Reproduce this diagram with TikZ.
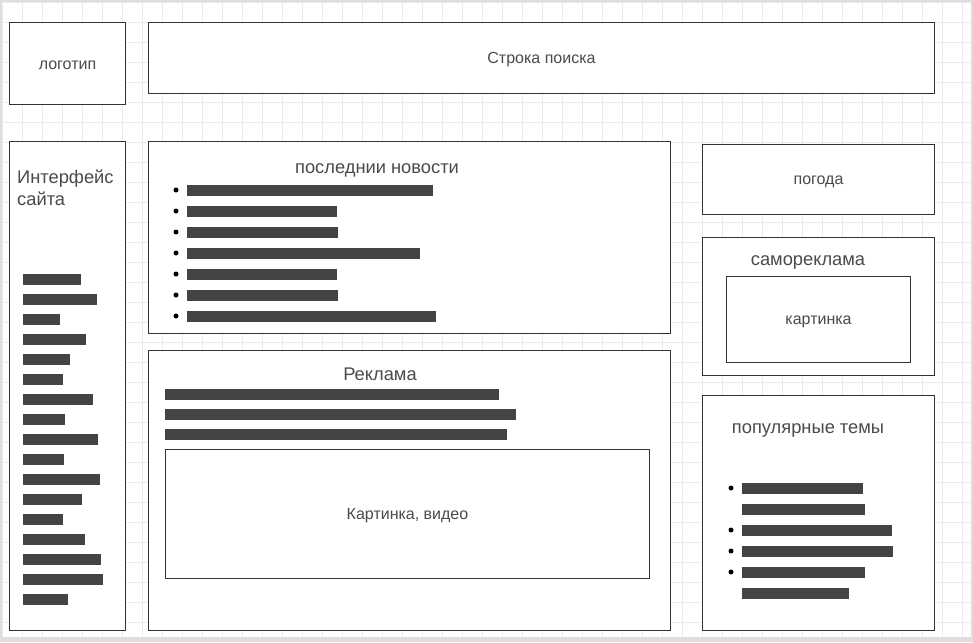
\documentclass[tikz,border=0pt]{standalone}
\usepackage{fontspec}
\setmainfont{Liberation Sans}
\usetikzlibrary{positioning}

\definecolor{edge}{HTML}{333333}
\definecolor{ink}{HTML}{444444}
\definecolor{textgray}{HTML}{4A4A4A}
\definecolor{gridline}{HTML}{EBEBEB}
\definecolor{framegray}{HTML}{DEDEDE}

\begin{document}
\begin{tikzpicture}[x=1pt, y=-1pt,
        box/.style={draw=edge, line width=1pt, fill=white, anchor=north west, inner sep=0pt},
        caption/.style={text=textgray, font=\fontsize{16}{19}\selectfont, yshift=-2pt},
        heading/.style={text=textgray, font=\fontsize{18.3}{22}\selectfont, yshift=-3pt},
        bar/.style={fill=ink},
        dot/.style={fill=black}]
            \useasboundingbox (0,0) rectangle (973,642);
            \fill[framegray] (0,0) rectangle (973,642);
            \fill[white] (2,2) rectangle (971,637);
            \draw[gridline, line width=0.8pt, shift={(2.7,2.7)}] (0,0) grid[step=20pt] (968,634);

            % top row
            \node [box, minimum width=116pt, minimum height=82pt] (logo) at (9,22) {};
            \node [box, minimum width=786pt, minimum height=71pt] (search) at (148,22) {};
            \node [caption] (logotext) at (logo.center) {логотип};
            \node [caption] (searchtext) at (search.center) {Строка поиска};

            % left column
            \node [box, minimum width=116pt, minimum height=489pt] (site) at (9,141) {};
            \node [heading, anchor=north west, inner sep=0pt, align=left, yshift=1pt] (sitetext) at (17,168) {Интерфейс\\сайта};

            \fill[bar] (23,274) rectangle (81,285);
            \fill[bar] (23,294) rectangle (97,305);
            \fill[bar] (23,314) rectangle (60,325);
            \fill[bar] (23,334) rectangle (86,345);
            \fill[bar] (23,354) rectangle (70,365);
            \fill[bar] (23,374) rectangle (63,385);
            \fill[bar] (23,394) rectangle (93,405);
            \fill[bar] (23,414) rectangle (65,425);
            \fill[bar] (23,434) rectangle (98,445);
            \fill[bar] (23,454) rectangle (64,465);
            \fill[bar] (23,474) rectangle (100,485);
            \fill[bar] (23,494) rectangle (82,505);
            \fill[bar] (23,514) rectangle (63,525);
            \fill[bar] (23,534) rectangle (85,545);
            \fill[bar] (23,554) rectangle (101,565);
            \fill[bar] (23,574) rectangle (103,585);
            \fill[bar] (23,594) rectangle (68,605);

            % news
            \node [box, minimum width=522pt, minimum height=192pt] (news) at (148,141) {};
            \node [heading] (newstext) at (377,167) {последнии новости};

            \fill[dot] (176,190) circle (2.5pt);
            \fill[dot] (176,211) circle (2.5pt);
            \fill[dot] (176,232) circle (2.5pt);
            \fill[dot] (176,253) circle (2.5pt);
            \fill[dot] (176,274) circle (2.5pt);
            \fill[dot] (176,295) circle (2.5pt);
            \fill[dot] (176,316) circle (2.5pt);
            \fill[bar] (187,185) rectangle (433,196);
            \fill[bar] (187,206) rectangle (337,217);
            \fill[bar] (187,227) rectangle (338,238);
            \fill[bar] (187,248) rectangle (420,259);
            \fill[bar] (187,269) rectangle (337,280);
            \fill[bar] (187,290) rectangle (338,301);
            \fill[bar] (187,311) rectangle (436,322);

            % advertising
            \node [box, minimum width=522pt, minimum height=280pt] (ads) at (148,350) {};
            \node [heading, yshift=3pt] (adstext) at (380,374) {Реклама};
            \fill[bar] (165,389) rectangle (499,400);
            \fill[bar] (165,409) rectangle (516,420);
            \fill[bar] (165,429) rectangle (507,440);
            \node [box, minimum width=484pt, minimum height=129pt] (video) at (165,449) {};
            \node [caption] (videotext) at (video.center) {Картинка, видео};

            % right column
            \node [box, minimum width=232pt, minimum height=70pt] (weather) at (702,144) {};
            \node [caption] (weathertext) at (weather.center) {погода};

            \node [box, minimum width=232pt, minimum height=138pt] (promo) at (702,237) {};
            \node [heading] (promotext) at (808,259) {самореклама};
            \node [box, minimum width=184pt, minimum height=86pt] (promopic) at (726,276) {};
            \node [caption] (promopictext) at (promopic.center) {картинка};

            \node [box, minimum width=232pt, minimum height=235pt] (topics) at (702,395) {};
            \node [heading] (topicstext) at (808,427) {популярные темы};

            \fill[dot] (731,488) circle (2.5pt);
            \fill[dot] (731,530) circle (2.5pt);
            \fill[dot] (731,551) circle (2.5pt);
            \fill[dot] (731,572) circle (2.5pt);
            \fill[bar] (742,483) rectangle (863,494);
            \fill[bar] (742,504) rectangle (865,515);
            \fill[bar] (742,525) rectangle (892,536);
            \fill[bar] (742,546) rectangle (893,557);
            \fill[bar] (742,567) rectangle (865,578);
            \fill[bar] (742,588) rectangle (849,599);
        \end{tikzpicture}
\end{document}
